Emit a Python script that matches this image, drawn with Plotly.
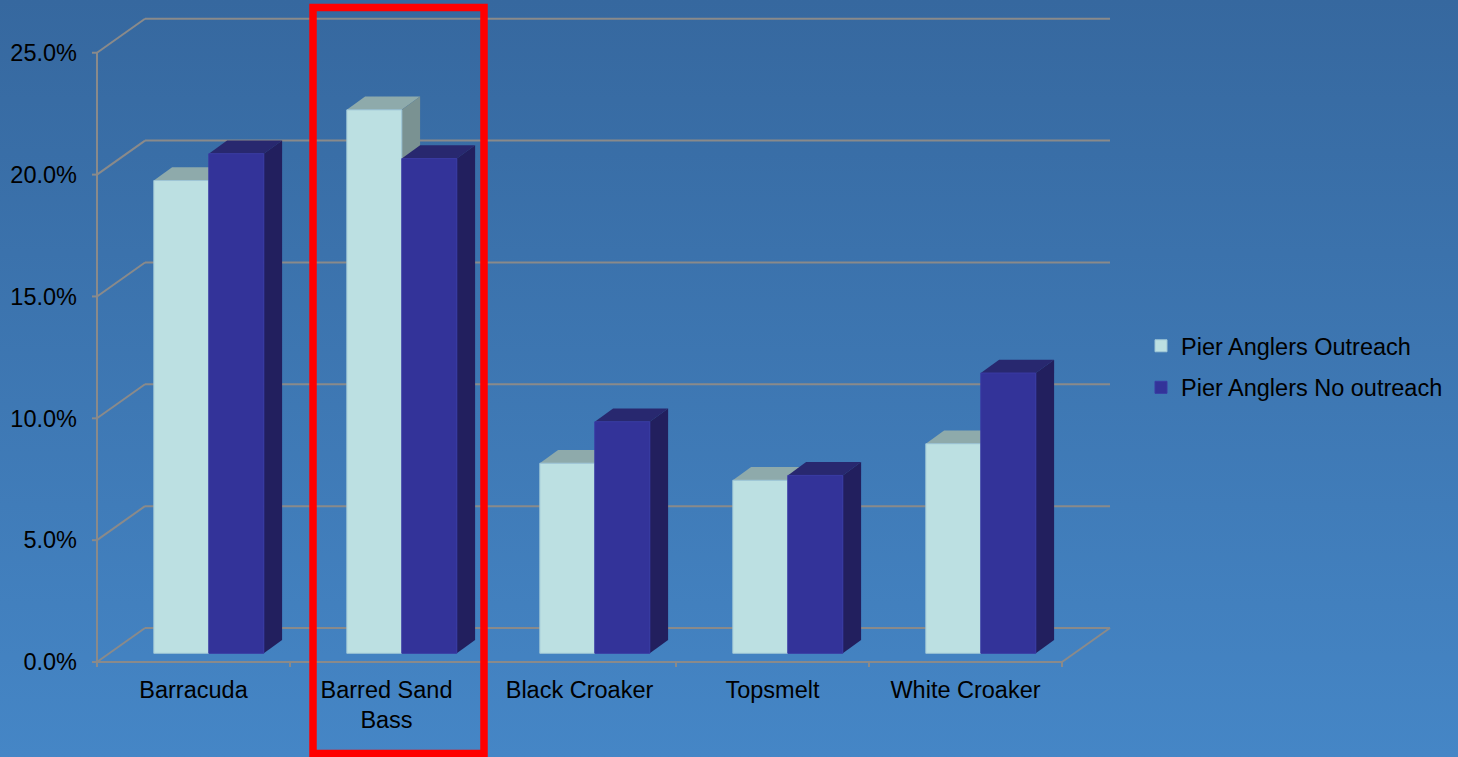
import base64
import plotly.graph_objects as go

# ---- data -------------------------------------------------------------
categories = ["Barracuda", "Barred Sand<br>Bass", "Black Croaker", "Topsmelt", "White Croaker"]
series_names = ["Pier Anglers Outreach", "Pier Anglers No outreach"]
outreach = [19.4, 22.3, 7.8, 7.1, 8.6]
no_outreach = [20.5, 20.3, 9.5, 7.3, 11.5]
y_ticks = [0, 5, 10, 15, 20, 25]
y_tick_text = [f"{t:.1f}%" for t in y_ticks]

# ---- style ------------------------------------------------------------
FRONT = ["#bce0e2", "#333399"]
TOP = ["#8eaaab", "#28286f"]
SIDE = ["#7a9292", "#221f5e"]
EDGE = ["#9fc6d6", "#3a3aa3"]
GRID = "#8a8a8a"
BG_TOP, BG_BOTTOM = "#36689f", "#4586c6"
FONT = dict(family="Liberation Sans, Arial, sans-serif", size=23.5, color="#000000")

# ---- 3-D geometry (pixels) --------------------------------------------
W, H = 1458, 757
CAT_PX = 193.0            # width of one category slot
PCT_PX = 24.37            # pixels per percentage point
FRONT_X0 = 97.0           # left edge of the front plane
FRONT_Y0 = 662.0          # baseline of the front plane
BAR_SHIFT = (15.3, 8.7)   # bar fronts sit back from the front plane (right, up)
WALL_SHIFT = (48.0, 34.0) # back wall offset
BAR_DEPTH = (18.3, 13.3)  # visible depth of each column
BAR_PX = 55.0             # column width
TICK_PX = 5.0
PLOT_L, PLOT_R, PLOT_T, PLOT_B = 90, 1120, 12, 668
PW, PH = PLOT_R - PLOT_L, PLOT_B - PLOT_T


def x_at(px, shift):
    return (px - FRONT_X0 - shift) / CAT_PX - 0.5


def y_at(py, shift):
    return (FRONT_Y0 - shift - py) / PCT_PX


# main axes live in the plane of the column fronts
x_range = [x_at(PLOT_L, BAR_SHIFT[0]), x_at(PLOT_R, BAR_SHIFT[0])]
y_range = [y_at(PLOT_B, BAR_SHIFT[1]), y_at(PLOT_T, BAR_SHIFT[1])]
# label axes live in the front plane
x2_range = [x_at(PLOT_L, 0), x_at(PLOT_R, 0)]
y2_range = [y_at(PLOT_B, 0), y_at(PLOT_T, 0)]

FX = BAR_SHIFT[0] / CAT_PX
FY = BAR_SHIFT[1] / PCT_PX
WX = WALL_SHIFT[0] / CAT_PX
WY = WALL_SHIFT[1] / PCT_PX
DX = BAR_DEPTH[0] / CAT_PX
DY = BAR_DEPTH[1] / PCT_PX
BW = BAR_PX / CAT_PX


def front(u, t):
    return (u - FX, t - FY)


def wall(u, t):
    return front(u + WX, t + WY)


shapes = []


def seg(p, q):
    shapes.append(dict(type="line", xref="x", yref="y", x0=p[0], y0=p[1], x1=q[0], y1=q[1],
                       line=dict(color=GRID, width=2), layer="below"))


def poly(pts, color):
    path = "M " + " L ".join(f"{x},{y}" for x, y in pts) + " Z"
    shapes.append(dict(type="path", xref="x", yref="y", path=path, fillcolor=color,
                       line=dict(width=0), layer="below"))


left, right = -0.5, len(categories) - 0.5
# walls and floor
for t in y_ticks:
    seg(front(left, t), wall(left, t))
    seg(wall(left, t), wall(right, t))
    seg(front(left - TICK_PX / CAT_PX, t), front(left, t))
seg(front(left, 0), front(left, y_ticks[-1]))
seg(front(left, 0), front(right, 0))
seg(front(right, 0), wall(right, 0))
for i in range(len(categories) + 1):
    b = left + i
    seg(front(b, 0), front(b, -TICK_PX / PCT_PX))

# column tops and sides, drawn left to right so nearer faces cover farther ones
for i in range(len(categories)):
    for s, vals in enumerate([outreach, no_outreach]):
        h = vals[i]
        a = i - BW + s * BW
        poly([(a, h), (a + BW, h), (a + BW + DX, h + DY), (a + DX, h + DY)], TOP[s])
        poly([(a + BW, 0), (a + BW, h), (a + BW + DX, h + DY), (a + BW + DX, DY)], SIDE[s])

# highlight frame around the second category
rx0, rx1, ry0, ry1 = 313, 484, 7.5, 753.5
shapes.append(dict(type="rect", xref="paper", yref="paper",
                   x0=(rx0 - PLOT_L) / PW, x1=(rx1 - PLOT_L) / PW,
                   y0=(PLOT_B - ry1) / PH, y1=(PLOT_B - ry0) / PH,
                   line=dict(color="#ff0000", width=7.5), layer="above"))

fig = go.Figure()
for s, vals in enumerate([outreach, no_outreach]):
    fig.add_trace(go.Bar(
        x=list(range(len(categories))), y=vals, name=series_names[s],
        width=BW, offset=-BW + s * BW,
        marker=dict(color=FRONT[s], line=dict(color=EDGE[s], width=1)),
        legendgroup=f"g{s}", hovertemplate="%{y:.1f}%<extra>" + series_names[s] + "</extra>",
    ))
fig.add_trace(go.Scatter(x=[None], y=[None], xaxis="x2", yaxis="y2", showlegend=False,
                         hoverinfo="skip"))

svg = (f'<svg xmlns="http://www.w3.org/2000/svg" width="{W}" height="{H}" '
       f'viewBox="0 0 {W} {H}" preserveAspectRatio="none"><defs>'
       f'<linearGradient id="g" x1="0" y1="0" x2="0" y2="1">'
       f'<stop offset="0" stop-color="{BG_TOP}"/><stop offset="1" stop-color="{BG_BOTTOM}"/>'
       f'</linearGradient></defs><rect width="{W}" height="{H}" fill="url(#g)"/></svg>')
bg_src = "data:image/svg+xml;base64," + base64.b64encode(svg.encode()).decode()

fig.update_layout(
    width=W, height=H,
    margin=dict(l=PLOT_L, r=W - PLOT_R, t=PLOT_T, b=H - PLOT_B, pad=0, autoexpand=False),
    paper_bgcolor="#3e77b3", plot_bgcolor="rgba(0,0,0,0)",
    font=FONT, barmode="overlay", shapes=shapes,
    images=[dict(source=bg_src, xref="paper", yref="paper",
                 x=-PLOT_L / PW, y=1 + PLOT_T / PH, sizex=W / PW, sizey=H / PH,
                 xanchor="left", yanchor="top", sizing="stretch", layer="below")],
    xaxis=dict(range=x_range, visible=False, fixedrange=True),
    yaxis=dict(range=y_range, visible=False, fixedrange=True),
    xaxis2=dict(range=x2_range, overlaying="x", anchor="y2", side="bottom",
                tickmode="array", tickvals=list(range(len(categories))), ticktext=categories,
                showgrid=False, zeroline=False, showline=False, ticks="",
                ticklabelstandoff=5, tickfont=FONT),
    yaxis2=dict(range=y2_range, overlaying="y", anchor="x2", side="left",
                tickmode="array", tickvals=y_ticks, ticktext=y_tick_text,
                showgrid=False, zeroline=False, showline=False, ticks="",
                ticklabelstandoff=12, tickfont=FONT),
    legend=dict(x=(1141 - PLOT_L) / PW, y=(PLOT_B - 367) / PH, xanchor="left", yanchor="middle",
                font=FONT, bgcolor="rgba(0,0,0,0)", tracegroupgap=8, traceorder="grouped"),
    showlegend=True,
)

fig.write_html("out.html")
